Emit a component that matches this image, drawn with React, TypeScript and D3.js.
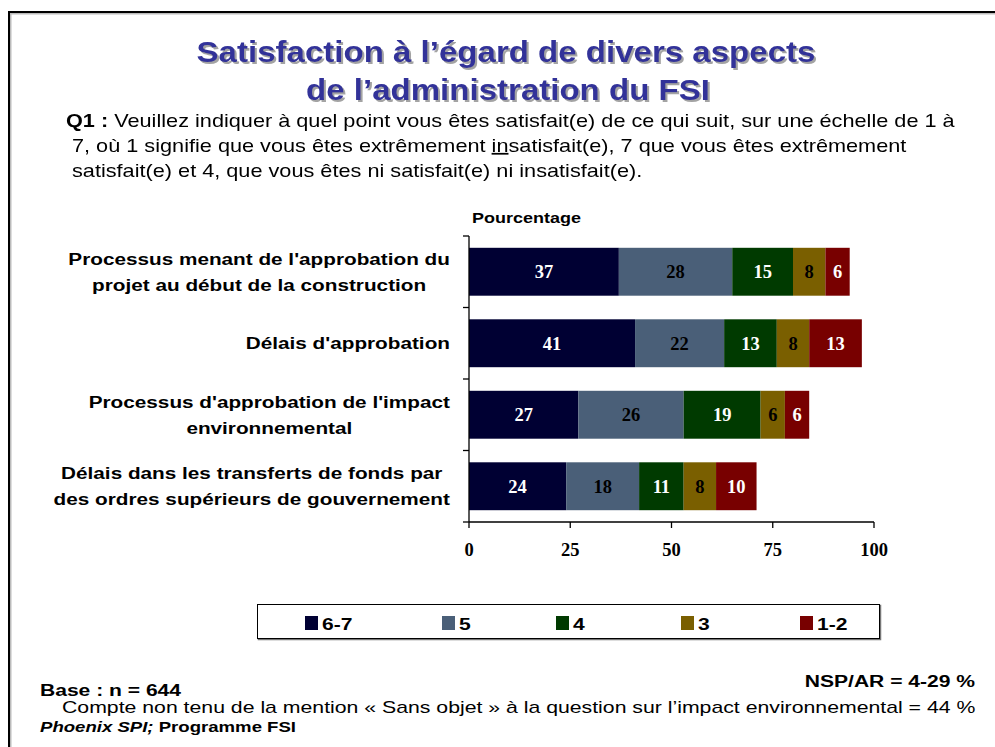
import React from "react";
import * as d3 from "d3";

const categories = [
  ["Processus menant de l'approbation du", "projet au début de la construction"],
  ["Délais d'approbation"],
  ["Processus d'approbation de l'impact", "environnemental"],
  ["Délais dans les transferts de fonds par", "des ordres supérieurs de gouvernement"],
];
const seriesNames = ["6-7", "5", "4", "3", "1-2"];
const values67 = [37, 41, 27, 24];
const values5 = [28, 22, 26, 18];
const values4 = [15, 13, 19, 11];
const values3 = [8, 8, 6, 8];
const values12 = [6, 13, 6, 10];
const xTicks = [0, 25, 50, 75, 100];

const colors = ["#000033", "#4a5f78", "#003a00", "#7a5f00", "#780000"];
const textColors = ["#fff", "#000", "#fff", "#000", "#fff"];

const SANS = "'Liberation Sans', Arial, sans-serif";
const SERIF = "'Liberation Serif', 'Times New Roman', serif";
const SX = 1.24;

let ctx: CanvasRenderingContext2D | null = null;
function measure(text: string, font: string) {
  if (!ctx) ctx = document.createElement("canvas").getContext("2d");
  if (!ctx) return text.length * 9;
  ctx.font = font;
  return ctx.measureText(text).width;
}

function T(props: any) {
  const { x, y, sx = SX, children, ...rest } = props;
  return (
    <text transform={`translate(${x},${y}) scale(${sx},1)`} {...rest}>
      {children}
    </text>
  );
}

export default function App() {
  const series = [values67, values5, values4, values3, values12];
  const x = d3.scaleLinear().domain([0, 100]).range([469, 874]);
  const y = d3
    .scaleBand<number>()
    .domain(d3.range(categories.length))
    .range([236, 522])
    .paddingInner(0.33)
    .paddingOuter(0.165);
  const stackData = categories.map((_, i) => {
    const o: any = {};
    seriesNames.forEach((s, k) => (o[s] = series[k][i]));
    return o;
  });
  const stacked = d3.stack().keys(seriesNames)(stackData);
  const bandStep = (522 - 236) / categories.length;
  const legendX = [305, 442, 556, 681, 800];
  const catSX = 1.22;
  const catFont = "bold 17px 'Liberation Sans', Arial, sans-serif";

  return (
    <svg
      width={995}
      height={747}
      style={{ position: "absolute", left: 0, top: 0, background: "#fff" }}
      fontFamily={SANS}
    >
      <defs>
        <filter id="tshadow" x="-5%" y="-20%" width="110%" height="150%">
          <feDropShadow dx={2} dy={2} stdDeviation={0.6} floodColor="#999" floodOpacity={0.9} />
        </filter>
      </defs>
      {/* frame */}
      <path d="M10.5,760 L10.5,13.5 L1000,13.5" fill="none" stroke="#bbb" strokeWidth={2} />
      <path d="M9,760 L9,12 L1000,12" fill="none" stroke="#000" strokeWidth={2} />

      {/* title */}
      <g fontSize={29} fontWeight="bold" textAnchor="middle" fill="#333399" filter="url(#tshadow)">
        <T x={506} y={62} sx={1.14}>Satisfaction à l’égard de divers aspects</T>
        <T x={508} y={100} sx={1.14}>de l’administration du FSI</T>
      </g>

      {/* question */}
      <g fontSize={17.5} fill="#000">
        <T x={66} y={127}>
          <tspan fontWeight="bold">Q1 :</tspan> Veuillez indiquer à quel point vous êtes satisfait(e) de ce qui suit, sur une échelle de 1 à
        </T>
        <T x={72} y={152}>
          7, où 1 signifie que vous êtes extrêmement <tspan textDecoration="underline">in</tspan>satisfait(e), 7 que vous êtes extrêmement
        </T>
        <T x={72} y={177}>satisfait(e) et 4, que vous êtes ni satisfait(e) ni insatisfait(e).</T>
      </g>

      <T x={472} y={223} fontSize={14.5} fontWeight="bold">Pourcentage</T>

      {/* category labels */}
      <g fontSize={17} fontWeight="bold">
        {categories.map((lines, i) => {
          const cy = (y(i) as number) + y.bandwidth() / 2;
          const lh = 26;
          const maxW = Math.max(...lines.map((l) => measure(l, catFont))) * catSX;
          const cx = 450 - maxW / 2;
          return lines.map((l, j) => (
            <T
              key={i + "-" + j}
              x={cx}
              sx={catSX}
              textAnchor="middle"
              y={cy + 6 + (j - (lines.length - 1) / 2) * lh}
            >
              {l}
            </T>
          ));
        })}
      </g>

      {/* bars */}
      {stacked.map((s, k) => (
        <g key={k}>
          {s.map((d, i) => {
            const x0 = x(d[0]);
            const x1 = x(d[1]);
            const yy = y(i) as number;
            return (
              <g key={i}>
                <rect x={x0} y={yy} width={x1 - x0} height={y.bandwidth()} fill={colors[k]} />
                <text
                  x={(x0 + x1) / 2}
                  y={yy + y.bandwidth() / 2 + 6.5}
                  textAnchor="middle"
                  fontFamily={SERIF}
                  fontWeight="bold"
                  fontSize={18.5}
                  fill={textColors[k]}
                >
                  {series[k][i]}
                </text>
              </g>
            );
          })}
        </g>
      ))}

      {/* axes */}
      <g stroke="#000" strokeWidth={1.3} fill="none">
        <line x1={469} x2={469} y1={236} y2={522} />
        <line x1={469} x2={874} y1={522} y2={522} />
        {d3.range(categories.length + 1).map((i) => (
          <line key={i} x1={463} x2={469} y1={236 + i * bandStep} y2={236 + i * bandStep} />
        ))}
        {xTicks.map((t) => (
          <line key={t} x1={x(t)} x2={x(t)} y1={522} y2={528} />
        ))}
      </g>
      <g fontFamily={SERIF} fontWeight="bold" fontSize={18.5} textAnchor="middle">
        {xTicks.map((t) => (
          <text key={t} x={x(t)} y={556}>
            {t}
          </text>
        ))}
      </g>

      {/* legend */}
      <rect x={258.5} y={605.5} width={622} height={34} fill="#fff" stroke="#777" strokeWidth={1.5} />
      <rect x={257.5} y={604.5} width={622} height={34} fill="#fff" stroke="#000" strokeWidth={1} />
      {seriesNames.map((s, k) => (
        <g key={s}>
          <rect x={legendX[k]} y={616} width={13} height={14} fill={colors[k]} />
          <T x={legendX[k] + 17} y={629.5} fontSize={17} fontWeight="bold">
            {s}
          </T>
        </g>
      ))}

      {/* footer */}
      <T x={975} y={687} fontSize={17} fontWeight="bold" textAnchor="end">NSP/AR = 4-29 %</T>
      <T x={40} y={696} fontSize={17} fontWeight="bold">Base : n = 644</T>
      <T x={62} y={713} sx={1.25} fontSize={17}>Compte non tenu de la mention « Sans objet » à la question sur l’impact environnemental = 44 %</T>
      <T x={40} y={732} fontSize={15} fontWeight="bold">
        <tspan fontStyle="italic">Phoenix SPI;</tspan> Programme FSI
      </T>
    </svg>
  );
}
